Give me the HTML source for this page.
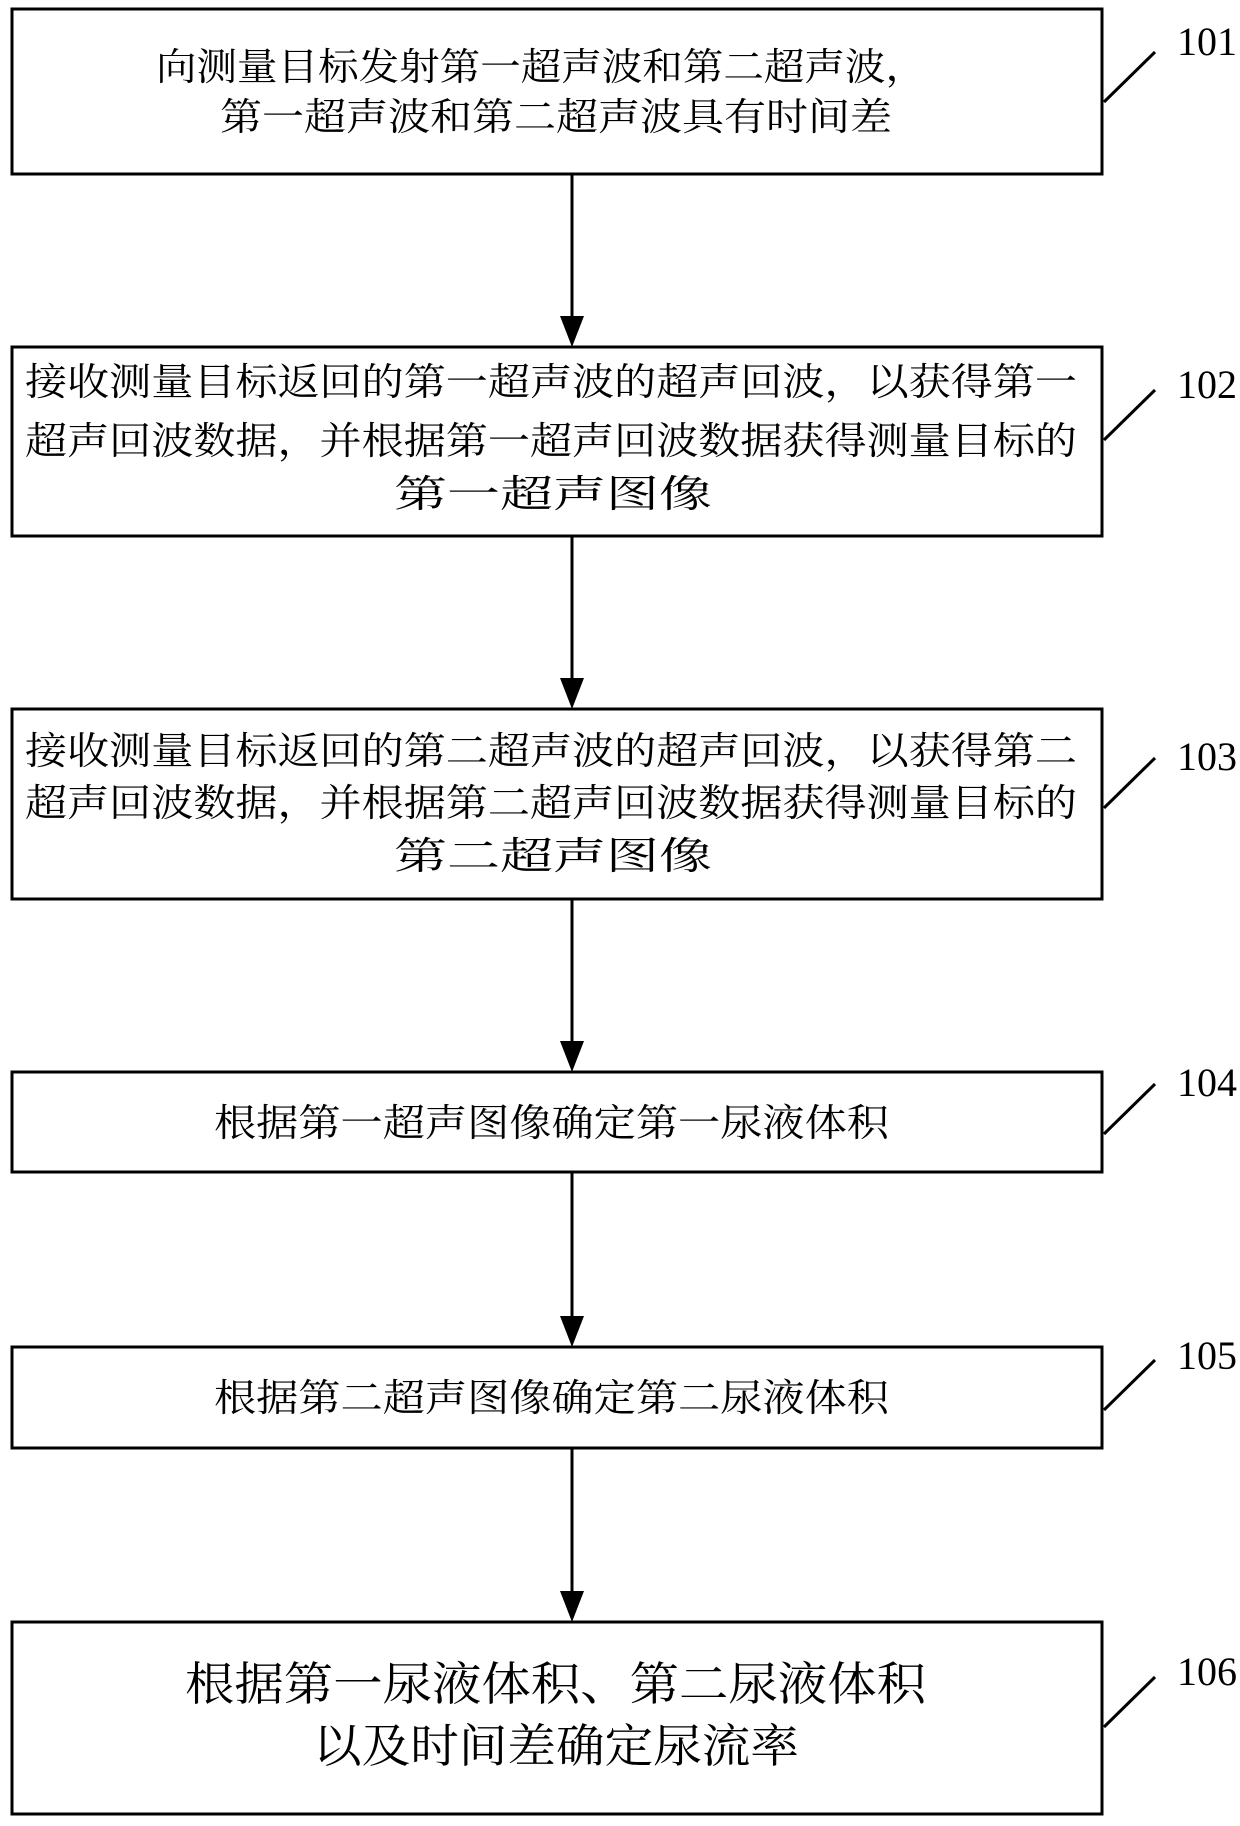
<!DOCTYPE html>
<html><head><meta charset="utf-8"><style>
html,body{margin:0;padding:0;background:#fff;}
svg{display:block;}
.t{font-family:"Liberation Serif","Noto Serif CJK SC",serif;font-size:38px;fill:#000;}
.b{font-family:"Liberation Serif","Noto Serif CJK SC",serif;font-size:46px;fill:#000;}
.n{font-family:"Liberation Serif",serif;font-size:40px;fill:#000;}
</style></head><body>
<svg width="1240" height="1826" viewBox="0 0 1240 1826" xmlns="http://www.w3.org/2000/svg">
<defs><marker id="a" markerWidth="12" markerHeight="14" refX="11" refY="7" orient="auto" markerUnits="userSpaceOnUse"><path d="M0,0 L0,0"/></marker></defs>
<g fill="none" stroke="#000" stroke-width="3">
<rect x="12" y="9" width="1090" height="165"/>
<rect x="12" y="347" width="1090" height="189"/>
<rect x="12" y="709" width="1090" height="190"/>
<rect x="12" y="1072" width="1090" height="100"/>
<rect x="12" y="1347" width="1090" height="101"/>
<rect x="12" y="1622" width="1090" height="192"/>
<line x1="572" y1="174" x2="572" y2="318"/>
<line x1="572" y1="536" x2="572" y2="680"/>
<line x1="572" y1="899" x2="572" y2="1043"/>
<line x1="572" y1="1172" x2="572" y2="1318"/>
<line x1="572" y1="1448" x2="572" y2="1593"/>
<line x1="1104" y1="102" x2="1155" y2="52"/>
<line x1="1104" y1="440" x2="1155" y2="390"/>
<line x1="1104" y1="808" x2="1155" y2="758"/>
<line x1="1104" y1="1134" x2="1155" y2="1084"/>
<line x1="1104" y1="1410" x2="1155" y2="1360"/>
<line x1="1104" y1="1727" x2="1155" y2="1677"/>
</g>
<g fill="#000">
<path d="M560,316 L584,316 L572,347 Z"/>
<path d="M560,678 L584,678 L572,709 Z"/>
<path d="M560,1041 L584,1041 L572,1072 Z"/>
<path d="M560,1316 L584,1316 L572,1347 Z"/>
<path d="M560,1591 L584,1591 L572,1622 Z"/>
</g>
<text class="t" x="156" y="80" textLength="770" lengthAdjust="spacingAndGlyphs">向测量目标发射第一超声波和第二超声波，</text>
<text class="t" x="220" y="130" textLength="672" lengthAdjust="spacingAndGlyphs">第一超声波和第二超声波具有时间差</text>
<text class="t" x="25" y="395" textLength="1052" lengthAdjust="spacingAndGlyphs">接收测量目标返回的第一超声波的超声回波，以获得第一</text>
<text class="t" x="25" y="454" textLength="1052" lengthAdjust="spacingAndGlyphs">超声回波数据，并根据第一超声回波数据获得测量目标的</text>
<text class="t" x="394" y="507" textLength="318" lengthAdjust="spacingAndGlyphs">第一超声图像</text>
<text class="t" x="25" y="764" textLength="1052" lengthAdjust="spacingAndGlyphs">接收测量目标返回的第二超声波的超声回波，以获得第二</text>
<text class="t" x="25" y="816" textLength="1052" lengthAdjust="spacingAndGlyphs">超声回波数据，并根据第二超声回波数据获得测量目标的</text>
<text class="t" x="394" y="869" textLength="318" lengthAdjust="spacingAndGlyphs">第二超声图像</text>
<text class="t" x="214" y="1136" textLength="675" lengthAdjust="spacingAndGlyphs">根据第一超声图像确定第一尿液体积</text>
<text class="t" x="214" y="1411" textLength="675" lengthAdjust="spacingAndGlyphs">根据第二超声图像确定第二尿液体积</text>
<text class="b" x="185" y="1700" textLength="741" lengthAdjust="spacingAndGlyphs">根据第一尿液体积、第二尿液体积</text>
<text class="b" x="313" y="1762" textLength="486" lengthAdjust="spacingAndGlyphs">以及时间差确定尿流率</text>
<text class="n" x="1177" y="55">101</text>
<text class="n" x="1177" y="398">102</text>
<text class="n" x="1177" y="770">103</text>
<text class="n" x="1177" y="1096">104</text>
<text class="n" x="1177" y="1369">105</text>
<text class="n" x="1177" y="1685">106</text>
</svg>
</body></html>
